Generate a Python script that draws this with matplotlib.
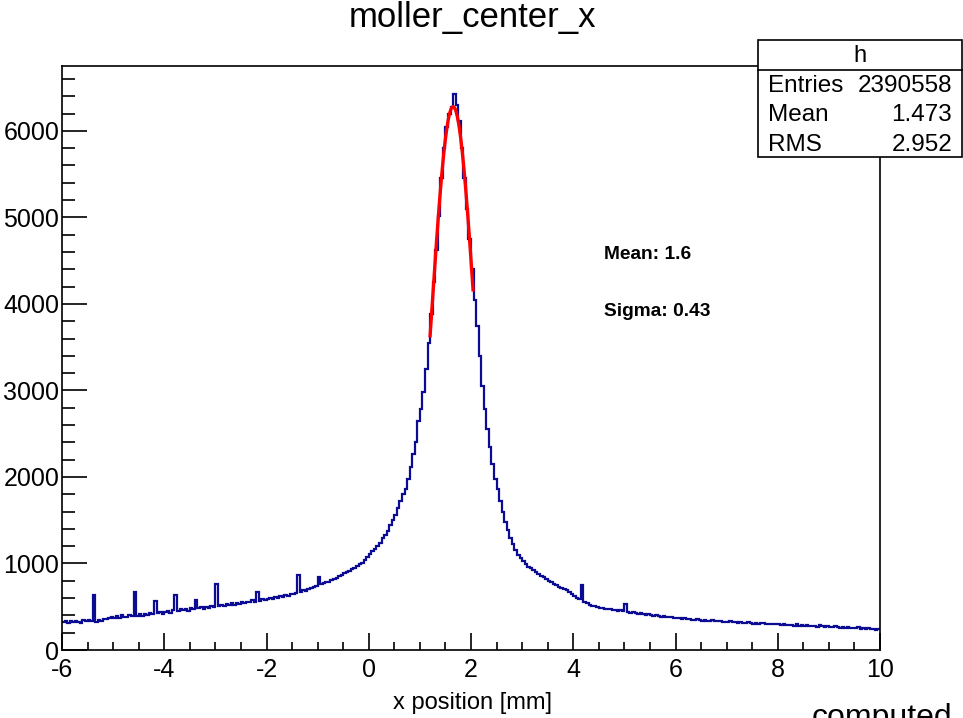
import numpy as np
import matplotlib
matplotlib.use("Agg")
import matplotlib.pyplot as plt
from matplotlib.patches import Rectangle
from matplotlib.lines import Line2D
from matplotlib.ticker import MultipleLocator

plt.rcParams['font.family'] = ['Liberation Sans', 'DejaVu Sans']
plt.rcParams['axes.unicode_minus'] = False

# histogram: 320 bins of 0.05 mm from -6 to 10
x_lo, x_hi = -6.0, 10.0
counts = [
    # -6 .. -5
    318, 330, 312, 335, 322, 340, 328, 315, 345, 332, 350, 338, 630, 325, 348, 340, 362, 355, 370, 380,
    # -5 .. -4
    365, 395, 372, 410, 385, 378, 400, 392, 670, 398, 412, 395, 420, 408, 425, 415, 566, 428, 435, 420,
    # -4 .. -3
    438, 450, 432, 458, 636, 445, 470, 462, 478, 455, 485, 472, 578, 480, 495, 470, 500, 488, 510, 498,
    # -3 .. -2
    763, 505, 520, 512, 530, 518, 540, 525, 548, 535, 555, 542, 560, 550, 575, 558, 670, 570, 585, 578,
    # -2 .. -1
    592, 600, 585, 612, 605, 620, 615, 640, 628, 650, 645, 660, 867, 672, 690, 680, 705, 712, 730, 738,
    # -1 .. 0
    844, 760, 775, 790, 782, 810, 820, 835, 850, 870, 888, 900, 915, 935, 952, 975, 990, 1010, 1045, 1080,
    # 0 .. 1
    1110, 1150, 1170, 1200, 1240, 1290, 1330, 1380, 1440, 1500, 1560, 1640, 1720, 1800, 1860, 1980, 2120, 2260, 2400, 2650,
    # 1 .. 2
    2780, 2980, 3250, 3550, 3880, 4250, 4620, 5020, 5450, 5800, 6050, 6200, 6280, 6430, 6300, 6120, 5800, 5450, 5100, 4750,
    # 2 .. 3
    4400, 4050, 3750, 3400, 3050, 2780, 2550, 2350, 2150, 1980, 1860, 1720, 1590, 1480, 1390, 1300, 1230, 1160, 1100, 1060,
    # 3 .. 4
    1030, 990, 965, 950, 920, 905, 880, 860, 845, 820, 800, 790, 765, 750, 728, 720, 700, 690, 665, 650,
    # 4 .. 5
    625, 605, 590, 751, 560, 545, 520, 510, 505, 498, 490, 482, 478, 470, 475, 462, 468, 455, 462, 445,
    # 5 .. 6
    530, 440, 432, 438, 425, 420, 428, 412, 405, 418, 400, 395, 402, 390, 385, 395, 380, 376, 384, 370,
    # 6 .. 7
    368, 372, 360, 365, 355, 362, 350, 348, 356, 342, 340, 350, 336, 338, 345, 332, 330, 338, 325, 328,
    # 7 .. 8
    322, 330, 318, 325, 312, 320, 316, 308, 322, 310, 305, 314, 302, 308, 312, 298, 305, 300, 295, 302,
    # 8 .. 9
    296, 290, 300, 285, 292, 288, 282, 295, 280, 284, 278, 290, 275, 282, 276, 270, 285, 272, 268, 275,
    # 9 .. 10
    270, 262, 275, 265, 258, 268, 255, 262, 250, 258, 252, 262, 248, 255, 245, 250, 240, 248, 236, 242,
]

# gaussian fit parameters and fit range
fit_amp = 6280
fit_mean = 1.65
fit_sigma = 0.43
fit_range = (1.2, 2.04)

stats_labels = ["Entries", "Mean", "RMS"]
stats_values = ["2390558", "1.473", "2.952"]

W, H = 963, 718
fig = plt.figure(figsize=(W / 100, H / 100), dpi=100)


def fx(px):
    return px / W


def fy(py):
    return 1 - py / H


ax = fig.add_axes([fx(62), fy(650), fx(880) - fx(62), fy(66) - fy(650)])

edges = np.linspace(x_lo, x_hi, len(counts) + 1)
ax.stairs(counts, edges, baseline=None, color='#0b0b94', linewidth=1.6)

xf = np.linspace(fit_range[0], fit_range[1], 200)
yf = fit_amp * np.exp(-0.5 * ((xf - fit_mean) / fit_sigma) ** 2)
ax.plot(xf, yf, color='#ff0000', linewidth=2.4)

ax.set_xlim(x_lo, x_hi)
ax.set_ylim(0, 6750)

ax.xaxis.set_major_locator(MultipleLocator(2))
ax.xaxis.set_minor_locator(MultipleLocator(0.5))
ax.yaxis.set_major_locator(MultipleLocator(1000))
ax.yaxis.set_minor_locator(MultipleLocator(200))
ax.tick_params(axis='both', which='both', direction='in', top=False, right=False,
               width=1.2, labelsize=18)
ax.tick_params(axis='x', which='major', length=12, pad=6)
ax.tick_params(axis='x', which='minor', length=6)
ax.tick_params(axis='y', which='major', length=18, pad=2)
ax.tick_params(axis='y', which='minor', length=9)
for s in ax.spines.values():
    s.set_linewidth(1.2)

ax.text(4.6, 4566, "Mean: 1.6", fontsize=13.8, fontweight='bold', va='center')
ax.text(4.6, 3907, "Sigma: 0.43", fontsize=13.8, fontweight='bold', va='center')

fig.text(fx(472), fy(18), "moller_center_x", fontsize=25, ha='center', va='center')
fig.text(fx(472), fy(703), "x position [mm]", fontsize=17, ha='center', va='center')
fig.text(fx(812), fy(726), "computed", fontsize=23, ha='left', va='baseline')

# stats box
bx0, by0, bx1, by1 = 758, 40, 962, 157
fig.patches.append(Rectangle((fx(bx0), fy(by1)), fx(bx1) - fx(bx0), fy(by0) - fy(by1),
                             transform=fig.transFigure, facecolor='white',
                             edgecolor='black', linewidth=1.2, zorder=5))
fig.lines.append(Line2D([fx(bx0), fx(bx1)], [fy(70), fy(70)], transform=fig.transFigure,
                        color='black', linewidth=1.2, zorder=6))
fig.text(fx((bx0 + bx1) / 2), fy(56), "h", fontsize=17, ha='center', va='center', zorder=7)
rows_y = [86, 115, 145]
for lab, val, ry in zip(stats_labels, stats_values, rows_y):
    fig.text(fx(768), fy(ry), lab, fontsize=17.5, ha='left', va='center', zorder=7)
    fig.text(fx(952), fy(ry), val, fontsize=17.5, ha='right', va='center', zorder=7)

fig.savefig('out.png', dpi=100)
